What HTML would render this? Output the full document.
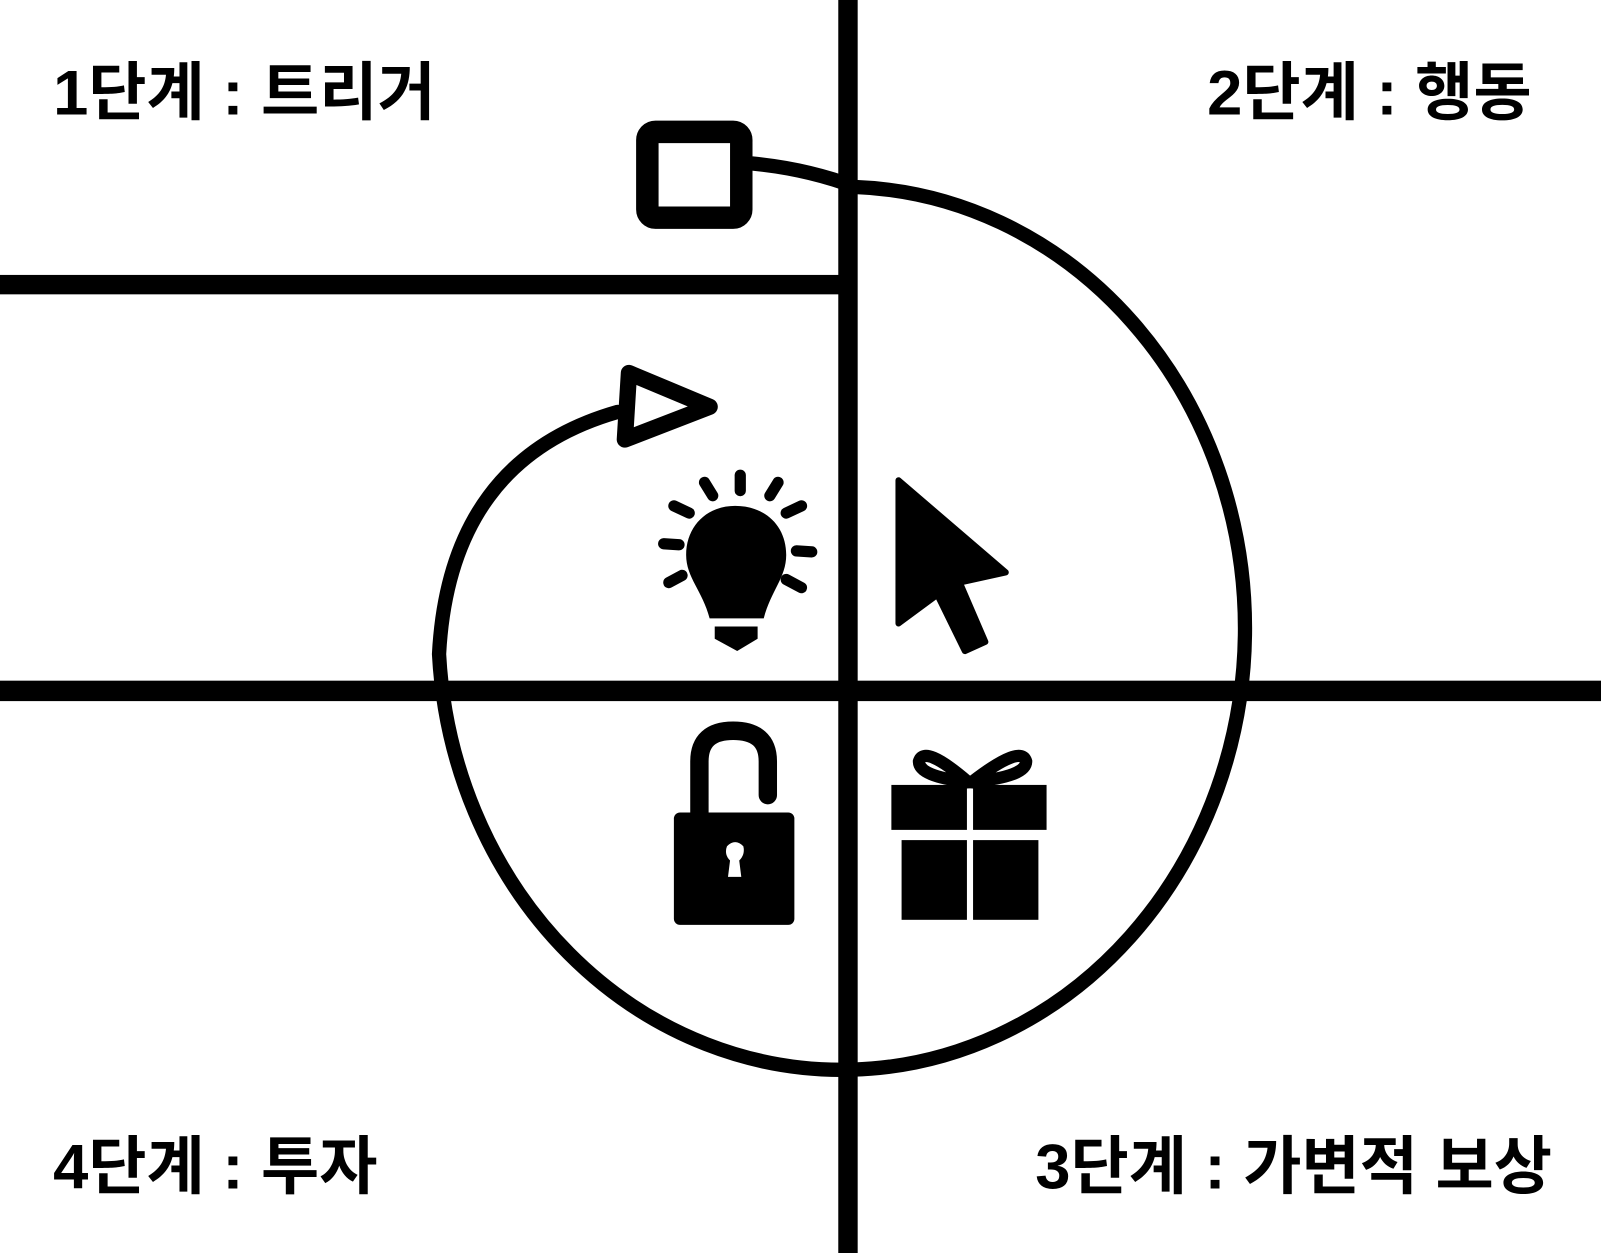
<!DOCTYPE html>
<html><head><meta charset="utf-8"><style>
html,body{margin:0;padding:0;background:#fff;}
svg{display:block;}
text{font-family:"Liberation Sans","Noto Sans CJK KR",sans-serif;font-weight:bold;font-size:62px;fill:#000;}
</style></head><body>
<svg width="1601" height="1253" viewBox="0 0 1568 1226" preserveAspectRatio="none">
<rect x="821" y="0" width="19" height="1226" fill="#000"/>
<rect x="0" y="666" width="1568" height="20" fill="#000"/>
<rect x="0" y="269" width="830" height="19" fill="#000"/>
<g stroke="#000" fill="none" stroke-linecap="round" stroke-linejoin="round">
<rect x="634" y="129" width="92" height="84" stroke-width="22" rx="8"/>
<path d="M737 160 Q790 165 838 183 A395 432 0 1 1 430 640 Q440 450 605 403" stroke-width="14"/>
<path d="M616 365 L695 398 L612 430 Z" stroke-width="16"/>
</g>
<g fill="#000">
<path d="M720 495 C750 495 770 515 770 543 C770 565 755 578 748 605 L695 605 C688 578 672 565 672 543 C672 515 692 495 720 495 Z"/>
<path d="M700 613 L742 613 L742 625 L722 637 L700 625 Z"/>
</g>
<g stroke="#000" stroke-width="11" stroke-linecap="round">
<line x1="725" y1="465" x2="725" y2="480"/>
<line x1="690" y1="472" x2="698" y2="485"/>
<line x1="762" y1="472" x2="754" y2="485"/>
<line x1="660" y1="495" x2="675" y2="502"/>
<line x1="785" y1="495" x2="770" y2="502"/>
<line x1="650" y1="532" x2="665" y2="533"/>
<line x1="780" y1="539" x2="795" y2="540"/>
<line x1="655" y1="570" x2="668" y2="563"/>
<line x1="770" y1="567" x2="785" y2="575"/>
</g>
<path d="M880 470 L985 560 L940 570 L965 628 L945 637 L918 582 L880 610 Z" fill="#000" stroke="#000" stroke-width="6" stroke-linejoin="round"/>
<rect x="660" y="795" width="118" height="110" rx="6" fill="#000"/>
<path d="M685 795 L685 745 Q685 715 718 715 Q752 715 752 745 L752 778" stroke="#000" stroke-width="18" fill="none" stroke-linecap="round"/>
<path d="M712 828 Q720 820 728 828 Q730 836 724 842 L726 858 L713 858 L715 842 Q709 836 712 828 Z" fill="#fff"/>
<rect x="873" y="768" width="74" height="44" fill="#000"/>
<rect x="953" y="768" width="72" height="44" fill="#000"/>
<rect x="883" y="822" width="64" height="78" fill="#000"/>
<rect x="953" y="822" width="64" height="78" fill="#000"/>
<g stroke="#000" stroke-width="12" fill="none">
<path d="M948 765 Q900 760 900 745 Q905 728 948 765 Z"/>
<path d="M952 765 Q1005 760 1005 745 Q1000 728 952 765 Z"/>
</g>
<text x="52" y="112">1단계 : 트리거</text>
<text x="1500" y="112" text-anchor="end">2단계 : 행동</text>
<text x="52" y="1163">4단계 : 투자</text>
<text x="1520" y="1163" text-anchor="end">3단계 : 가변적 보상</text>
</svg>
</body></html>
